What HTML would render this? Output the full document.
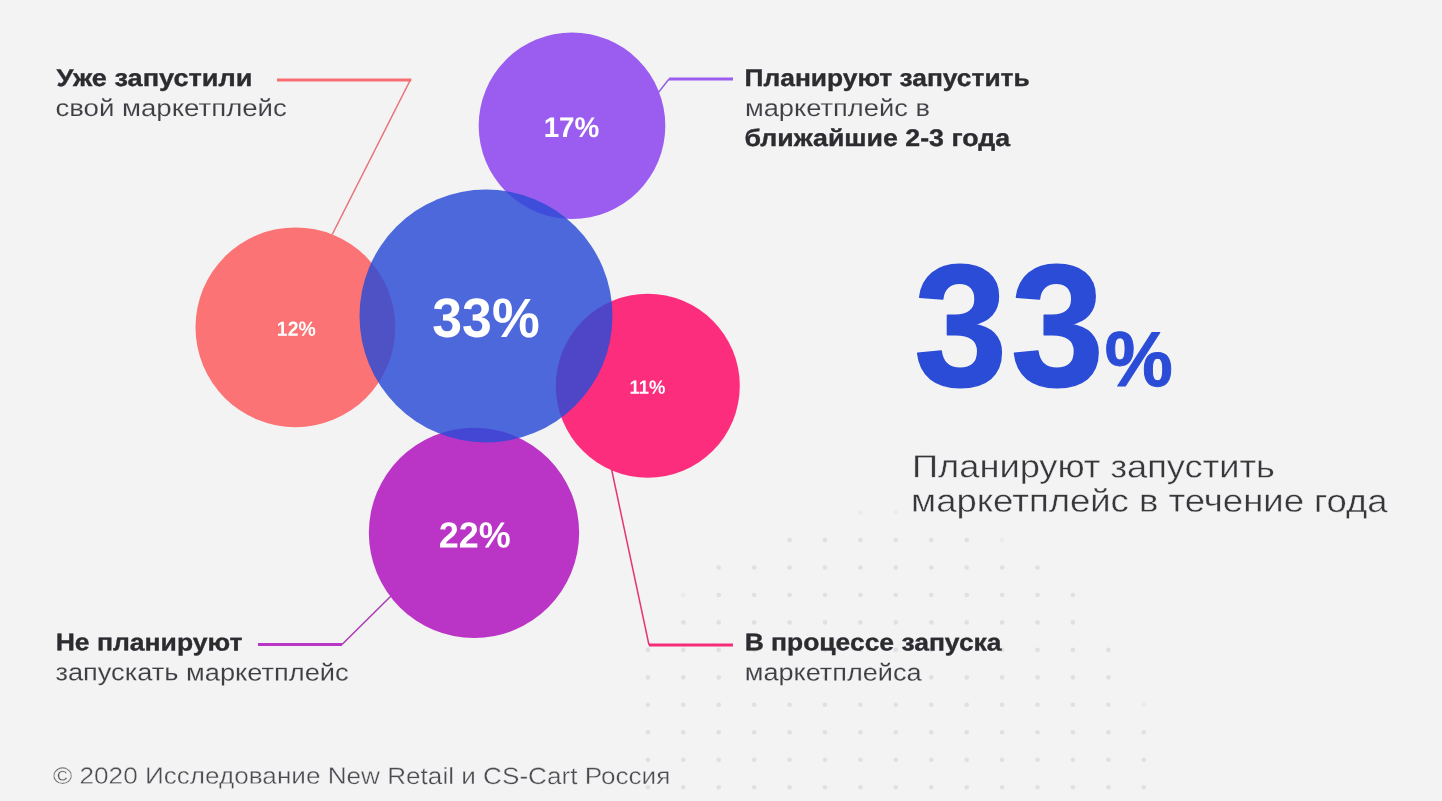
<!DOCTYPE html>
<html lang="ru">
<head>
<meta charset="utf-8">
<title>33% планируют запустить маркетплейс в течение года</title>
<style>
html,body{margin:0;padding:0;background:#f3f3f3;}
body{width:1442px;height:801px;overflow:hidden;}
svg{display:block;}
text{font-family:"Liberation Sans",sans-serif;white-space:pre;text-rendering:geometricPrecision;}
.dots circle{fill:#e0e0e2;}
.dots circle.faint{fill:#ebebed;}
.thick{stroke-width:3.2;}
.thin{stroke-width:1.5;}
.b{font-weight:bold;font-size:24px;fill:#2b2b30;stroke:#2b2b30;stroke-width:.35;}
.r{font-size:24px;fill:#3e3e44;stroke:#f3f3f3;stroke-width:.12;}
.h{font-size:32px;fill:#36363b;stroke:#f3f3f3;stroke-width:.4;}
.f{font-size:23.5px;fill:#4b4b51;stroke:#f3f3f3;stroke-width:.35;}
.n{font-weight:bold;fill:#ffffff;}
.big{font-weight:bold;fill:#2b4cd6;stroke:#2b4cd6;stroke-linejoin:round;}
</style>
</head>
<body>
<svg width="1442" height="801" viewBox="0 0 1442 801" role="img" aria-label="Инфографика: планы по запуску маркетплейса">
<rect width="1442" height="801" fill="#f3f3f3"/>
<!-- decorative dot grid -->
<g class="dots">
<circle cx="860.4" cy="512.6" r="2.3" class="faint"/>
<circle cx="895.8" cy="512.6" r="2.3" class="faint"/>
<circle cx="789.6" cy="540.1" r="2.3"/>
<circle cx="825.0" cy="540.1" r="2.3"/>
<circle cx="860.4" cy="540.1" r="2.3"/>
<circle cx="895.8" cy="540.1" r="2.3"/>
<circle cx="931.3" cy="540.1" r="2.3"/>
<circle cx="966.7" cy="540.1" r="2.3"/>
<circle cx="1002.1" cy="540.1" r="2.3" class="faint"/>
<circle cx="718.7" cy="567.5" r="2.3"/>
<circle cx="754.2" cy="567.5" r="2.3"/>
<circle cx="789.6" cy="567.5" r="2.3"/>
<circle cx="825.0" cy="567.5" r="2.3"/>
<circle cx="860.4" cy="567.5" r="2.3"/>
<circle cx="895.8" cy="567.5" r="2.3"/>
<circle cx="931.3" cy="567.5" r="2.3"/>
<circle cx="966.7" cy="567.5" r="2.3"/>
<circle cx="1002.1" cy="567.5" r="2.3"/>
<circle cx="1037.5" cy="567.5" r="2.3"/>
<circle cx="683.3" cy="595.0" r="2.3" class="faint"/>
<circle cx="718.7" cy="595.0" r="2.3"/>
<circle cx="754.2" cy="595.0" r="2.3"/>
<circle cx="789.6" cy="595.0" r="2.3"/>
<circle cx="825.0" cy="595.0" r="2.3"/>
<circle cx="860.4" cy="595.0" r="2.3"/>
<circle cx="895.8" cy="595.0" r="2.3"/>
<circle cx="931.3" cy="595.0" r="2.3"/>
<circle cx="966.7" cy="595.0" r="2.3"/>
<circle cx="1002.1" cy="595.0" r="2.3"/>
<circle cx="1037.5" cy="595.0" r="2.3"/>
<circle cx="1072.9" cy="595.0" r="2.3"/>
<circle cx="683.3" cy="622.4" r="2.3"/>
<circle cx="718.7" cy="622.4" r="2.3"/>
<circle cx="754.2" cy="622.4" r="2.3"/>
<circle cx="789.6" cy="622.4" r="2.3"/>
<circle cx="825.0" cy="622.4" r="2.3"/>
<circle cx="860.4" cy="622.4" r="2.3"/>
<circle cx="895.8" cy="622.4" r="2.3"/>
<circle cx="931.3" cy="622.4" r="2.3"/>
<circle cx="966.7" cy="622.4" r="2.3"/>
<circle cx="1002.1" cy="622.4" r="2.3"/>
<circle cx="1037.5" cy="622.4" r="2.3"/>
<circle cx="1072.9" cy="622.4" r="2.3"/>
<circle cx="647.9" cy="649.9" r="2.3"/>
<circle cx="683.3" cy="649.9" r="2.3"/>
<circle cx="718.7" cy="649.9" r="2.3"/>
<circle cx="754.2" cy="649.9" r="2.3"/>
<circle cx="789.6" cy="649.9" r="2.3"/>
<circle cx="825.0" cy="649.9" r="2.3"/>
<circle cx="860.4" cy="649.9" r="2.3"/>
<circle cx="895.8" cy="649.9" r="2.3"/>
<circle cx="931.3" cy="649.9" r="2.3"/>
<circle cx="966.7" cy="649.9" r="2.3"/>
<circle cx="1002.1" cy="649.9" r="2.3"/>
<circle cx="1037.5" cy="649.9" r="2.3"/>
<circle cx="1072.9" cy="649.9" r="2.3"/>
<circle cx="1108.4" cy="649.9" r="2.3"/>
<circle cx="647.9" cy="677.4" r="2.3"/>
<circle cx="683.3" cy="677.4" r="2.3"/>
<circle cx="718.7" cy="677.4" r="2.3"/>
<circle cx="754.2" cy="677.4" r="2.3"/>
<circle cx="789.6" cy="677.4" r="2.3"/>
<circle cx="825.0" cy="677.4" r="2.3"/>
<circle cx="860.4" cy="677.4" r="2.3"/>
<circle cx="895.8" cy="677.4" r="2.3"/>
<circle cx="931.3" cy="677.4" r="2.3"/>
<circle cx="966.7" cy="677.4" r="2.3"/>
<circle cx="1002.1" cy="677.4" r="2.3"/>
<circle cx="1037.5" cy="677.4" r="2.3"/>
<circle cx="1072.9" cy="677.4" r="2.3"/>
<circle cx="1108.4" cy="677.4" r="2.3"/>
<circle cx="647.9" cy="704.8" r="2.3"/>
<circle cx="683.3" cy="704.8" r="2.3"/>
<circle cx="718.7" cy="704.8" r="2.3"/>
<circle cx="754.2" cy="704.8" r="2.3"/>
<circle cx="789.6" cy="704.8" r="2.3"/>
<circle cx="825.0" cy="704.8" r="2.3"/>
<circle cx="860.4" cy="704.8" r="2.3"/>
<circle cx="895.8" cy="704.8" r="2.3"/>
<circle cx="931.3" cy="704.8" r="2.3"/>
<circle cx="966.7" cy="704.8" r="2.3"/>
<circle cx="1002.1" cy="704.8" r="2.3"/>
<circle cx="1037.5" cy="704.8" r="2.3"/>
<circle cx="1072.9" cy="704.8" r="2.3"/>
<circle cx="1108.4" cy="704.8" r="2.3"/>
<circle cx="1143.8" cy="704.8" r="2.3" class="faint"/>
<circle cx="647.9" cy="732.3" r="2.3"/>
<circle cx="683.3" cy="732.3" r="2.3"/>
<circle cx="718.7" cy="732.3" r="2.3"/>
<circle cx="754.2" cy="732.3" r="2.3"/>
<circle cx="789.6" cy="732.3" r="2.3"/>
<circle cx="825.0" cy="732.3" r="2.3"/>
<circle cx="860.4" cy="732.3" r="2.3"/>
<circle cx="895.8" cy="732.3" r="2.3"/>
<circle cx="931.3" cy="732.3" r="2.3"/>
<circle cx="966.7" cy="732.3" r="2.3"/>
<circle cx="1002.1" cy="732.3" r="2.3"/>
<circle cx="1037.5" cy="732.3" r="2.3"/>
<circle cx="1072.9" cy="732.3" r="2.3"/>
<circle cx="1108.4" cy="732.3" r="2.3"/>
<circle cx="1143.8" cy="732.3" r="2.3"/>
<circle cx="647.9" cy="759.7" r="2.3"/>
<circle cx="683.3" cy="759.7" r="2.3"/>
<circle cx="718.7" cy="759.7" r="2.3"/>
<circle cx="754.2" cy="759.7" r="2.3"/>
<circle cx="789.6" cy="759.7" r="2.3"/>
<circle cx="825.0" cy="759.7" r="2.3"/>
<circle cx="860.4" cy="759.7" r="2.3"/>
<circle cx="895.8" cy="759.7" r="2.3"/>
<circle cx="931.3" cy="759.7" r="2.3"/>
<circle cx="966.7" cy="759.7" r="2.3"/>
<circle cx="1002.1" cy="759.7" r="2.3"/>
<circle cx="1037.5" cy="759.7" r="2.3"/>
<circle cx="1072.9" cy="759.7" r="2.3"/>
<circle cx="1108.4" cy="759.7" r="2.3"/>
<circle cx="1143.8" cy="759.7" r="2.3"/>
<circle cx="647.9" cy="787.2" r="2.3"/>
<circle cx="683.3" cy="787.2" r="2.3"/>
<circle cx="718.7" cy="787.2" r="2.3"/>
<circle cx="754.2" cy="787.2" r="2.3"/>
<circle cx="789.6" cy="787.2" r="2.3"/>
<circle cx="825.0" cy="787.2" r="2.3"/>
<circle cx="860.4" cy="787.2" r="2.3"/>
<circle cx="895.8" cy="787.2" r="2.3"/>
<circle cx="931.3" cy="787.2" r="2.3"/>
<circle cx="966.7" cy="787.2" r="2.3"/>
<circle cx="1002.1" cy="787.2" r="2.3"/>
<circle cx="1037.5" cy="787.2" r="2.3"/>
<circle cx="1072.9" cy="787.2" r="2.3"/>
<circle cx="1108.4" cy="787.2" r="2.3"/>
<circle cx="1143.8" cy="787.2" r="2.3"/>
</g>
<!-- connector lines -->
<g class="connectors" fill="none">
<line class="thick" x1="277" y1="80" x2="411.3" y2="80" stroke="#f66e72"/>
<line class="thin" x1="410.3" y1="80" x2="332.2" y2="234.5" stroke="#ea6f78"/>
<line class="thick" x1="669" y1="79" x2="733" y2="79" stroke="#9b5def"/>
<line class="thin" x1="669" y1="79" x2="658" y2="93" stroke="#9260e6"/>
<line class="thick" x1="258" y1="644.5" x2="342" y2="644.5" stroke="#b935c5"/>
<line class="thin" x1="342" y1="644.5" x2="391" y2="596" stroke="#aa3cb4"/>
<line class="thick" x1="649" y1="645" x2="733" y2="645" stroke="#f52d79"/>
<line class="thin" x1="649" y1="645" x2="611.5" y2="469" stroke="#e63574"/>
</g>
<!-- bubbles -->
<g class="bubbles">
<circle cx="572" cy="125.7" r="93.3" fill="#9b5def"/>
<circle cx="295.4" cy="327.3" r="99.9" fill="#fb7374"/>
<circle cx="647.8" cy="385.8" r="92" fill="#fc2d7c"/>
<circle cx="474" cy="532.85" r="105.15" fill="#ba34c6"/>
<circle cx="486" cy="316" r="126.5" fill="#2b4cd6" fill-opacity="0.83"/>
</g>
<!-- headline figure -->
<text class="big" transform="translate(913.7,385.8) rotate(0.03) scale(0.9675,1)" font-size="174" letter-spacing="3.2" stroke-width="1.5">33</text>
<text class="big" transform="translate(1104.7,385.9) rotate(0.03) scale(0.98,1)" font-size="78" stroke-width="1">%</text>
<!-- bubble values -->
<text class="n" x="543.63" y="137.08" transform="rotate(0.03 571.5 137.1)" font-size="28.53" textLength="55.76" lengthAdjust="spacingAndGlyphs">17%</text>
<text class="n" x="276.84" y="335.75" transform="rotate(0.03 296.3 335.8)" font-size="20.49" textLength="38.88" lengthAdjust="spacingAndGlyphs">12%</text>
<text class="n" x="629.57" y="393.76" transform="rotate(0.03 647.5 393.8)" font-size="19.14" textLength="35.90" lengthAdjust="spacingAndGlyphs">11%</text>
<text class="n" x="438.82" y="547.56" transform="rotate(0.03 474.8 547.6)" font-size="36.34" textLength="72.01" lengthAdjust="spacingAndGlyphs">22%</text>
<text class="n" x="432.21" y="336.89" transform="rotate(0.03 485.9 336.9)" font-size="55.24" textLength="107.48" lengthAdjust="spacingAndGlyphs">33%</text>
<!-- labels -->
<text class="b" x="56.40" y="86.00" transform="rotate(0.03 154.4 86.0)" textLength="196.04" lengthAdjust="spacingAndGlyphs">Уже запустили</text>
<text class="r" x="55.40" y="116.00" transform="rotate(0.03 171.1 116.0)" textLength="231.46" lengthAdjust="spacingAndGlyphs">свой маркетплейс</text>
<text class="b" x="744.60" y="86.00" transform="rotate(0.03 887.2 86.0)" textLength="285.13" lengthAdjust="spacingAndGlyphs">Планируют запустить</text>
<text class="r" x="744.90" y="116.00" transform="rotate(0.03 837.4 116.0)" textLength="185.05" lengthAdjust="spacingAndGlyphs">маркетплейс в</text>
<text class="b" x="744.50" y="146.00" transform="rotate(0.03 877.3 146.0)" textLength="265.51" lengthAdjust="spacingAndGlyphs">ближайшие 2-3 года</text>
<text class="b" x="55.70" y="650.40" transform="rotate(0.03 149.1 650.4)" textLength="186.83" lengthAdjust="spacingAndGlyphs">Не планируют</text>
<text class="r" x="55.40" y="680.40" transform="rotate(0.03 202.0 680.4)" textLength="293.23" lengthAdjust="spacingAndGlyphs">запускать маркетплейс</text>
<text class="b" x="744.70" y="650.40" transform="rotate(0.03 873.1 650.4)" textLength="256.82" lengthAdjust="spacingAndGlyphs">В процессе запуска</text>
<text class="r" x="744.80" y="680.40" transform="rotate(0.03 833.2 680.4)" textLength="176.74" lengthAdjust="spacingAndGlyphs">маркетплейса</text>
<text class="h" x="912.10" y="477.40" transform="rotate(0.03 1093.5 477.4)" textLength="362.85" lengthAdjust="spacingAndGlyphs">Планируют запустить</text>
<text class="h" x="911.10" y="511.80" transform="rotate(0.03 1149.4 511.8)" textLength="476.54" lengthAdjust="spacingAndGlyphs">маркетплейс в течение года</text>
<text class="f" x="53.06" y="783.90" transform="rotate(0.03 361.7 783.9)" textLength="617.31" lengthAdjust="spacingAndGlyphs">© 2020 Исследование New Retail и CS-Cart Россия</text>
</svg>
</body>
</html>
